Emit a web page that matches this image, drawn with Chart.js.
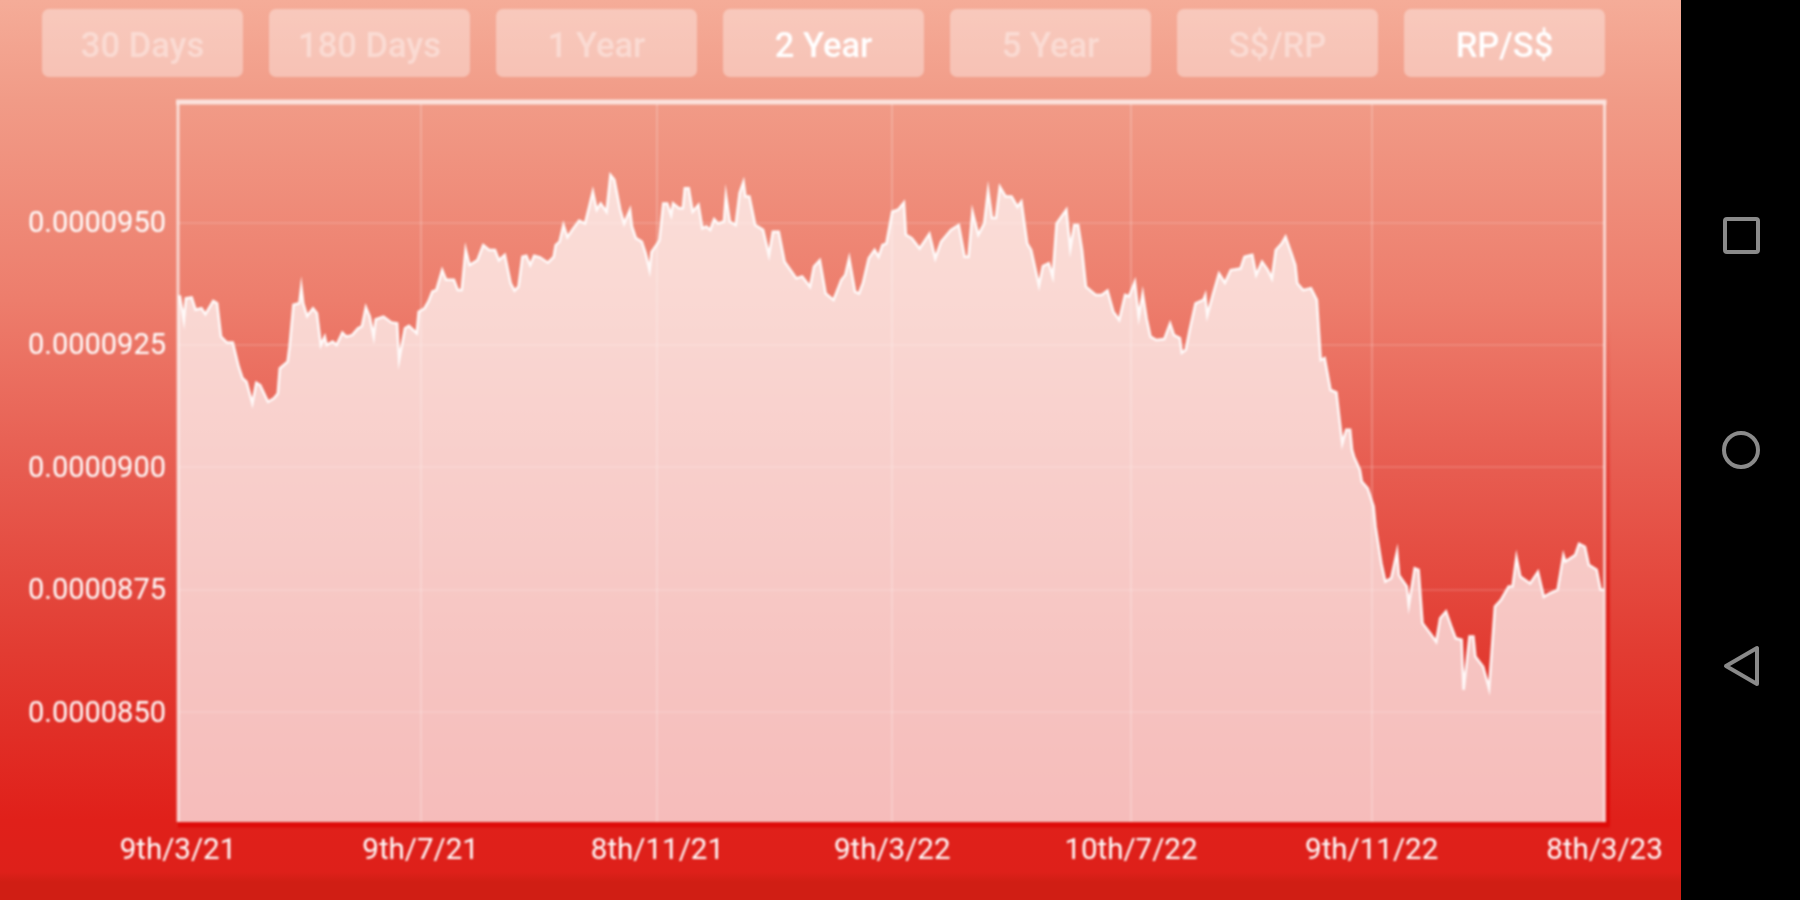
<!DOCTYPE html>
<html lang="en">
<head>
    <meta charset="UTF-8">
    <title>RP/S$ 2 Year</title>
    <script src="https://cdn.jsdelivr.net/npm/chart.js@4/dist/chart.umd.min.js"></script>
    <style>
        * { margin: 0; padding: 0; box-sizing: border-box; }

        body {
            width: 1800px;
            height: 900px;
            overflow: hidden;
            background: #000;
            font-family: Roboto, sans-serif;
        }

        .screen {
            position: absolute;
            left: 0;
            top: 0;
            width: 1681px;
            height: 900px;
            background: linear-gradient(to bottom,
                rgb(245,172,152) 0px,
                rgb(241,155,135) 100px,
                rgb(237,125,108) 300px,
                rgb(231,92,80) 470px,
                rgb(226,60,50) 650px,
                rgb(224,32,26) 820px,
                rgb(222,32,26) 872px,
                rgb(208,30,20) 882px,
                rgb(208,30,20) 900px);
        }

        .soft {
            position: absolute;
            left: 0;
            top: 0;
            width: 1681px;
            height: 900px;
            filter: blur(0.9px);
        }

        .buttons button {
            position: absolute;
            top: 9px;
            width: 201px;
            height: 68px;
            padding-top: 4px;
            border: none;
            border-radius: 7px;
            background: rgba(255,255,255,0.36);
            color: rgba(255,255,255,0.38);
            font: 500 34.5px Roboto, sans-serif;
        }

        .buttons button.on { color: #fff; }

        .chart-box {
            position: absolute;
            left: 0;
            top: 0;
            width: 1681px;
            height: 900px;
        }

        .nav {
            position: absolute;
            left: 1681px;
            top: 0;
            filter: blur(0.7px);
        }
    </style>
</head>
<body>
    <div class="screen">
        <div class="soft">
            <div class="buttons" id="buttons"></div>
            <div class="chart-box"><canvas id="rateChart"></canvas></div>
        </div>
    </div>
    <svg class="nav" width="119" height="900" fill="none" stroke="#8a8a8a" stroke-width="4">
        <rect x="44" y="219" width="33" height="33" rx="2"/>
        <circle cx="60" cy="450" r="17"/>
        <path d="M76 648 L76 684 L45 666 Z" stroke-linejoin="round"/>
    </svg>

    <script>
        const buttonLabels = ['30 Days', '180 Days', '1 Year', '2 Year', '5 Year', 'S$/RP', 'RP/S$'];
        const activeButtons = ['2 Year', 'RP/S$'];

        // days since 9th/3/21
        const days = [
            0, 1, 3, 4, 7, 9, 12, 14, 18, 20, 22, 25, 28, 31, 33, 35, 38, 40, 42, 46, 49, 51, 52, 56, 57, 59,
            62, 63, 64, 66, 69, 71, 73, 75, 76, 79, 81, 84, 86, 89, 92, 94, 96, 98, 100, 101, 105, 109, 112, 113, 116, 118,
            122, 123, 126, 128, 130, 132, 135, 137, 141, 143, 145, 147, 149, 153, 156, 159, 162, 164, 167, 170, 172, 174,
            176, 178, 180, 182, 185, 189, 192, 193, 195, 197, 199, 202, 205, 208, 212, 214, 216, 219, 221, 223, 226, 228,
            231, 232, 234, 237, 239, 241,
            242, 245, 246, 248, 250, 252, 253, 256, 258, 259, 261, 263, 266, 268, 270, 272, 274, 276, 279, 280, 282, 285,
            287, 289, 290, 292, 295, 299, 302, 304, 307, 310, 313, 316, 319, 323, 325, 328, 331, 335, 339, 341, 343, 346,
            348, 350, 353, 356, 358, 360, 362,
            365, 368, 371, 372, 375, 379, 384, 387, 390, 395, 399, 402, 404, 406, 409, 412, 414, 416, 418, 420, 423, 426,
            429, 431, 434, 436, 440, 442, 445, 447, 449, 454, 456, 458, 460, 462, 464, 469, 472, 475, 478, 481, 484, 486,
            489, 491, 493, 495, 497, 500, 504, 507, 509, 512, 513, 515, 517, 520, 524, 525, 526, 529, 532, 535, 538, 543,
            545, 549, 551, 554, 557, 559, 561, 564, 566, 569, 571, 572, 575, 579, 582, 584, 586, 589, 592, 595, 597, 599,
            600, 601, 604, 605, 608, 611, 612, 615, 617, 620, 623, 624, 628, 629, 632, 634, 636, 640, 643, 645, 648, 651,
            653, 656, 657, 660, 662, 663, 667, 670, 673, 676, 680, 682, 684, 686, 691, 695, 698, 701, 705, 708, 709, 714,
            716, 719, 721, 725, 727, 729
        ];

        // rate in units of 0.0000001
        const rates = [
            934.9, 934.9, 930.1, 934.5, 934.7, 932.2, 932.5, 931.3, 934.0, 933.5, 926.7, 925.5, 925.5, 920.6, 918.2, 917.5,
            913.1, 917.3, 916.8, 913.4, 914.1, 915.1, 920.2, 921.6, 924.7, 933.2,
            933.5, 936.9, 933.5, 930.9, 932.5, 931.5, 925.0, 926.7, 925.0, 925.7, 925.0, 927.5, 926.7, 927.0, 928.4, 928.8,
            932.7, 930.8, 926.7, 930.2, 930.8, 929.6, 929.4, 922.0, 928.4, 928.9,
            927.4, 931.8, 932.5, 933.9, 935.9, 936.2, 940.3, 938.3, 938.3, 936.2, 936.2, 944.5, 941.3, 942.3, 945.4, 944.4,
            944.4, 942.3, 943.4, 937.6, 936.1, 936.9,
            943.0, 943.2, 941.3, 943.2, 942.9, 941.8, 943.0, 945.4, 946.1, 949.5, 947.0, 948.8, 950.4, 949.8, 956.3, 952.6,
            953.9, 952.2, 959.7, 958.7, 952.6, 949.8,
            952.6, 949.2, 946.8, 946.1, 943.7, 940.3,
            944.0, 945.7, 946.4, 953.9, 953.9, 951.5, 953.9, 952.9, 952.9, 957.0, 957.0, 952.2, 953.6, 948.8, 949.2, 948.5,
            950.7, 949.8, 950.2, 955.6, 950.2, 949.5,
            956.0, 958.3, 955.3, 955.3, 949.5, 948.5, 943.4, 948.1, 948.1, 942.0, 940.3, 938.6, 939.0, 936.9, 941.0, 942.3,
            935.5, 934.2, 938.3, 939.3, 942.7, 935.9,
            935.5, 937.6, 942.7, 944.4, 943.0, 945.4, 945.7,
            952.2, 952.6, 954.1, 947.5, 946.8, 944.7, 947.7, 942.7, 946.1, 948.5, 949.5, 943.0, 943.0, 952.2, 947.5, 949.8,
            956.6, 950.9, 950.9, 957.3, 955.3, 955.3,
            953.2, 954.3, 945.7, 944.4, 937.2, 941.1, 941.7, 939.0, 949.8, 952.6, 944.7, 949.5, 949.5, 944.4, 936.9, 935.2,
            935.2, 936.1, 931.8, 930.1, 935.2, 934.9,
            937.9, 930.8, 935.5, 930.4, 926.7, 926.0, 926.2, 929.4, 927.0, 926.4, 923.4, 924.0, 928.1, 933.5, 934.2, 935.2,
            931.1, 935.5, 939.6, 937.7, 940.3, 940.6,
            943.0, 943.4, 939.3, 942.0, 940.3, 938.6, 944.4, 945.7, 947.1, 943.7, 941.3, 937.6, 936.2, 936.6, 934.2, 921.9,
            922.3, 915.8, 915.3, 904.9, 907.7, 907.7,
            903.6, 902.2, 899.5, 897.1, 895.7, 892.0, 887.9, 880.4, 876.7, 877.4, 882.8, 878.0, 875.7, 871.9, 879.4, 879.1,
            868.2, 866.1, 864.4, 869.2, 870.6, 867.2,
            865.1, 864.8, 854.6, 865.5, 865.5, 861.4, 859.3, 854.9, 871.6, 872.9, 875.7, 875.7, 881.7, 877.7, 876.3, 878.7,
            873.6, 874.3, 875.0, 882.1, 880.8, 882.1,
            884.4, 883.8, 880.1, 879.1, 875.0, 875.0
        ];

        const xTickDays = [0, 124, 245, 365, 487, 610, 729];
        const xTickLabels = ['9th/3/21', '9th/7/21', '8th/11/21', '9th/3/22', '10th/7/22', '9th/11/22', '8th/3/23'];
        const yTickValues = [850, 875, 900, 925, 950];
        const yTickLabels = ['0.0000850', '0.0000875', '0.0000900', '0.0000925', '0.0000950'];

        // buttons on top of the chart
        const buttonBox = document.getElementById('buttons');
        buttonLabels.forEach((label, i) => {
            const b = document.createElement('button');
            b.textContent = label;
            b.style.left = (42 + i * 227) + 'px';
            if (activeButtons.includes(label)) b.className = 'on';
            buttonBox.appendChild(b);
        });

        // frame round the plot: pale on top and at the sides, red at the bottom
        const framePlugin = {
            id: 'frame',
            afterDatasetsDraw(chart) {
                const { ctx, chartArea: a } = chart;
                ctx.save();
                ctx.strokeStyle = 'rgba(255,255,255,0.72)';
                ctx.lineWidth = 5;
                ctx.beginPath();
                ctx.moveTo(a.left - 2, a.top - 2);
                ctx.lineTo(a.right + 2, a.top - 2);
                ctx.stroke();
                ctx.lineWidth = 3;
                ctx.strokeStyle = 'rgba(255,255,255,0.6)';
                ctx.beginPath();
                ctx.moveTo(a.left, a.top);
                ctx.lineTo(a.left, a.bottom);
                ctx.moveTo(a.right, a.top);
                ctx.lineTo(a.right, a.bottom);
                ctx.stroke();
                ctx.strokeStyle = '#dd0b08';
                ctx.lineWidth = 5;
                ctx.beginPath();
                ctx.moveTo(a.left, a.bottom + 3);
                ctx.lineTo(a.right + 5, a.bottom + 3);
                ctx.stroke();
                const side = ctx.createLinearGradient(0, a.top, 0, a.bottom);
                side.addColorStop(0.3, 'rgba(221,11,8,0)');
                side.addColorStop(1, 'rgba(221,11,8,1)');
                ctx.strokeStyle = side;
                ctx.lineWidth = 4;
                ctx.beginPath();
                ctx.moveTo(a.right + 3.5, a.top);
                ctx.lineTo(a.right + 3.5, a.bottom + 3);
                ctx.stroke();
                ctx.restore();
            }
        };

        new Chart(document.getElementById('rateChart'), {
            type: 'line',
            data: {
                datasets: [{
                    data: days.map((d, i) => ({ x: d, y: rates[i] })),
                    borderColor: 'rgba(255,255,255,0.95)',
                    borderWidth: 2.5,
                    backgroundColor: 'rgba(255,255,255,0.7)',
                    fill: 'start',
                    pointRadius: 0,
                    tension: 0
                }]
            },
            options: {
                responsive: true,
                maintainAspectRatio: false,
                animation: false,
                layout: { padding: { top: 104, right: 76.5, bottom: 0, left: 0 } },
                plugins: { legend: { display: false }, tooltip: { enabled: false } },
                scales: {
                    x: {
                        type: 'linear',
                        min: 0,
                        max: 729,
                        afterBuildTicks: axis => { axis.ticks = xTickDays.map(v => ({ value: v })); },
                        afterFit: axis => { axis.height = 78; },
                        grid: {
                            color: 'rgba(255,255,255,0.2)',
                            lineWidth: 2,
                            drawTicks: false
                        },
                        border: { display: false },
                        ticks: {
                            autoSkip: false,
                            maxRotation: 0,
                            padding: 12,
                            color: '#fff',
                            font: { family: 'Roboto', size: 29.5 },
                            callback: v => xTickLabels[xTickDays.indexOf(v)]
                        }
                    },
                    y: {
                        min: 827.6,
                        max: 974.2,
                        afterBuildTicks: axis => { axis.ticks = yTickValues.map(v => ({ value: v })); },
                        afterFit: axis => { axis.width = 178; },
                        grid: {
                            color: 'rgba(255,255,255,0.14)',
                            lineWidth: 2,
                            drawTicks: false
                        },
                        border: { display: false },
                        ticks: {
                            padding: 12,
                            labelOffset: 2,
                            color: '#fff',
                            font: { family: 'Roboto', size: 29 },
                            callback: v => yTickLabels[yTickValues.indexOf(v)]
                        }
                    }
                }
            },
            plugins: [framePlugin]
        });
    </script>
</body>
</html>
